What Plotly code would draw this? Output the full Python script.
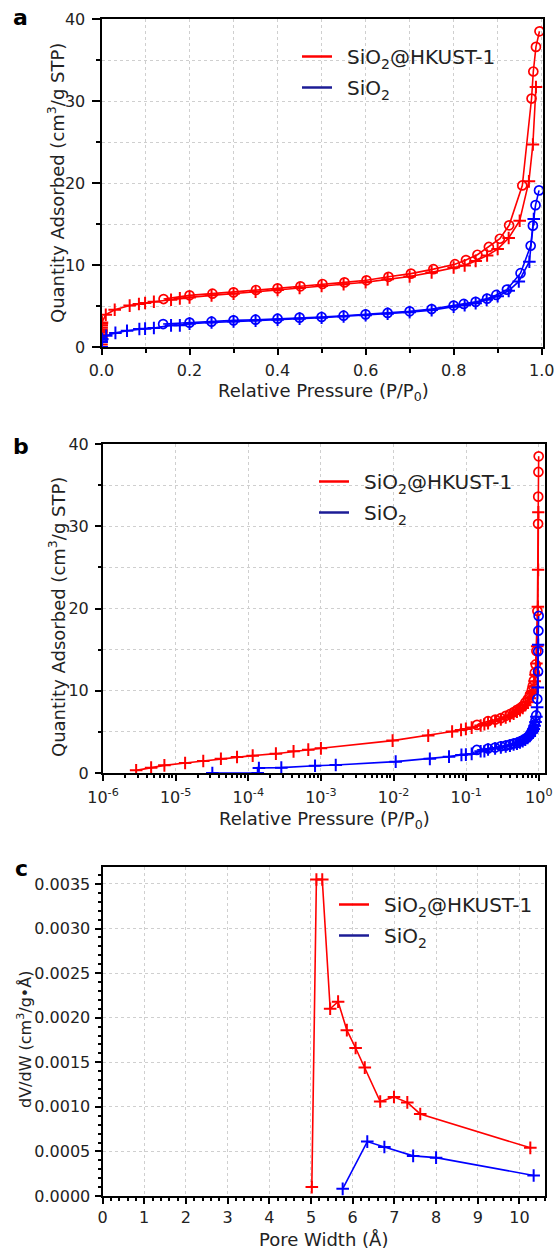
import plotly.graph_objects as go

# ---------------- data ----------------
# SiO2@HKUST-1 adsorption branch (P/P0, cm3/g STP)
red_ads_p = [2.86e-6, 4.6e-6, 7e-6, 1.35e-5, 2.4e-5, 4.2e-5, 7e-5, 1.15e-4, 2.4e-4, 4.2e-4,
             6.7e-4, 1.0e-3, 0.0097, 0.030, 0.064, 0.085, 0.099, 0.119, 0.158, 0.178,
             0.2, 0.25, 0.3, 0.35, 0.4, 0.45, 0.5, 0.55, 0.6, 0.65, 0.7, 0.75, 0.8, 0.825,
             0.85, 0.876, 0.9, 0.925, 0.95, 0.971, 0.980, 0.987]
red_ads_q = [0.32, 0.65, 0.93, 1.22, 1.46, 1.74, 1.95, 2.11, 2.35, 2.63,
             2.84, 3.0, 3.94, 4.55, 5.05, 5.24, 5.36, 5.52, 5.77, 5.93,
             6.05, 6.3, 6.5, 6.75, 6.95, 7.2, 7.45, 7.65, 7.9, 8.25, 8.6, 9.1, 9.7, 9.95,
             10.5, 11.15, 11.95, 13.3, 15.4, 20.2, 24.7, 31.7]
# SiO2@HKUST-1 desorption branch
red_des_p = [0.995, 0.987, 0.981, 0.977, 0.956, 0.926, 0.905, 0.88, 0.854, 0.828, 0.803,
             0.754, 0.703, 0.652, 0.602, 0.552, 0.502, 0.452, 0.40, 0.351, 0.30, 0.252,
             0.2, 0.141]
red_des_q = [38.5, 36.6, 33.6, 30.3, 19.7, 14.84, 13.2, 12.2, 11.25, 10.6, 10.1,
             9.5, 8.95, 8.56, 8.13, 7.88, 7.68, 7.4, 7.15, 6.95, 6.66, 6.5,
             6.3, 5.85]
# SiO2 adsorption branch
blue_ads_p = [3.2e-5, 1.35e-4, 1.4e-4, 2.85e-4, 8.3e-4, 1.6e-3, 0.0107, 0.0316, 0.058, 0.086,
              0.099, 0.119, 0.158, 0.178, 0.2, 0.25, 0.3, 0.35, 0.4, 0.45, 0.5, 0.55, 0.6,
              0.65, 0.7, 0.75, 0.8, 0.825, 0.85, 0.875, 0.9, 0.925, 0.948, 0.972, 0.982]
blue_ads_q = [0.0, 0.0, 0.6, 0.65, 0.89, 0.97, 1.38, 1.72, 1.99, 2.2,
              2.24, 2.32, 2.64, 2.64, 2.85, 2.98, 3.12, 3.22, 3.33, 3.46, 3.56, 3.72, 3.88,
              4.05, 4.25, 4.5, 4.9, 5.1, 5.35, 5.75, 6.2, 6.85, 8.0, 10.4, 15.6]
# SiO2 desorption branch
blue_des_p = [0.994, 0.986, 0.98, 0.975, 0.952, 0.921, 0.897, 0.876, 0.85, 0.823, 0.8,
              0.75, 0.7, 0.65, 0.6, 0.55, 0.5, 0.45, 0.4, 0.35, 0.3, 0.25, 0.2, 0.14]
blue_des_q = [19.1, 17.3, 14.8, 12.35, 9.0, 7.0, 6.35, 5.9, 5.5, 5.25, 5.05,
              4.63, 4.35, 4.15, 3.98, 3.82, 3.66, 3.58, 3.45, 3.33, 3.25, 3.09, 2.97, 2.8]
# pore size distribution (pore width in Angstrom, dV/dW)
pore_w_red = [5.02, 5.13, 5.27, 5.46, 5.65, 5.86, 6.07, 6.29, 6.66, 6.99, 7.31, 7.62, 10.26]
dvdw_red = [0.0001, 0.00355, 0.00355, 0.0021, 0.00218, 0.00186, 0.00166, 0.00144,
            0.00106, 0.00111, 0.00105, 0.00092, 0.00054]
pore_w_blue = [5.76, 6.35, 6.76, 7.45, 8.0, 10.34]
dvdw_blue = [0.00008, 0.00061, 0.00055, 0.00045, 0.00043, 0.00023]

log_tick_vals = [1e-6, 1e-5, 1e-4, 1e-3, 1e-2, 1e-1, 1]
log_tick_text = ["10<sup>-6</sup>", "10<sup>-5</sup>", "10<sup>-4</sup>", "10<sup>-3</sup>",
                 "10<sup>-2</sup>", "10<sup>-1</sup>", "10<sup>0</sup>"]

name_red = "\u2002SiO<sub>2</sub>@HKUST-1"
name_blue = "\u2002SiO<sub>2</sub>"

# ---------------- style ----------------
RED = "#ff0000"
BLUE = "#0000ff"
NAVY = "#1c1c96"
FONT = "DejaVu Sans, sans-serif"
TXT = "#222222"
GRID = "#cfcfcf"
W, H = 558, 1254

fig = go.Figure()


def add_iso(xa, ya):
    for px, qy, col, sym in [
        (red_ads_p, red_ads_q, RED, "cross-thin"),
        (red_des_p, red_des_q, RED, "circle-open"),
        (blue_ads_p, blue_ads_q, BLUE, "cross-thin"),
        (blue_des_p, blue_des_q, BLUE, "circle-open"),
    ]:
        fig.add_trace(go.Scatter(
            x=px, y=qy, mode="lines+markers", xaxis=xa, yaxis=ya, showlegend=False,
            line=dict(color=col, width=1.6),
            marker=dict(symbol=sym, size=9, color=col,
                        line=dict(color=col, width=2 if sym == "cross-thin" else 1.7)),
        ))


add_iso("x", "y")
add_iso("x2", "y2")

for pw, dv, col in [(pore_w_red, dvdw_red, RED), (pore_w_blue, dvdw_blue, BLUE)]:
    fig.add_trace(go.Scatter(x=pw, y=dv, mode="lines+markers", xaxis="x3", yaxis="y3",
                             showlegend=False, line=dict(color=col, width=1.6),
                             marker=dict(symbol="cross-thin", size=9, color=col,
                                         line=dict(color=col, width=2))))

# legend entries
for lg, xa, ya in [("legend", "x", "y"), ("legend2", "x2", "y2"), ("legend3", "x3", "y3")]:
    for nm, col in [(name_red, RED), (name_blue, NAVY)]:
        fig.add_trace(go.Scatter(x=[None], y=[None], mode="lines", name=nm, xaxis=xa, yaxis=ya,
                                 legend=lg, legendgroup=lg + nm, showlegend=True,
                                 line=dict(color=col, width=2.5)))


def px_dom(l, r):
    return [l / W, r / W]


def py_dom(top, bot):
    return [(H - bot) / H, (H - top) / H]


tickfont = dict(family=FONT, size=16, color=TXT)


def ax(ticklen=6, **kw):
    d = dict(showline=True, linecolor="black", linewidth=2, mirror=True,
             ticks="outside", ticklen=ticklen, tickwidth=1.5, tickcolor="black",
             tickfont=tickfont, zeroline=False, automargin=False,
             showgrid=True, gridcolor=GRID, gridwidth=1, griddash="dot")
    d.update(kw)
    return d


def minor(dtick, grid, ticklen=3):
    m = dict(dtick=dtick, ticks="outside", ticklen=ticklen, tickwidth=1.5, tickcolor="black",
             showgrid=grid)
    if grid:
        m.update(gridcolor=GRID, gridwidth=1, griddash="dot")
    return m


fig.update_layout(
    width=W, height=H, margin=dict(l=0, r=0, t=0, b=0, autoexpand=False),
    paper_bgcolor="white", plot_bgcolor="white",
    font=dict(family=FONT, color=TXT),
    xaxis=ax(domain=px_dom(101.5, 543), range=[0, 1.003],
             tickvals=[0, 0.2, 0.4, 0.6, 0.8, 1.0], tickformat=".1f", anchor="y",
             ticklabelstandoff=2, minor=minor(0.1, True, 4)),
    yaxis=ax(ticklen=8, domain=py_dom(19, 347), range=[0, 40], dtick=10, anchor="x",
             ticklabelstandoff=3, minor=minor(5, True, 4)),
    xaxis2=ax(domain=px_dom(103, 544.5), type="log", range=[-6, 0.078], tickvals=log_tick_vals,
              ticktext=log_tick_text, anchor="y2", ticklabelstandoff=3,
              minor=minor("D1", False, 3)),
    yaxis2=ax(domain=py_dom(444, 773), range=[0, 40], dtick=10, anchor="x2",
              ticklabelstandoff=3, minor=minor(5, True, 3)),
    xaxis3=ax(domain=px_dom(102.5, 544.5), range=[0, 10.6], dtick=1, anchor="y3",
              ticklabelstandoff=0, minor=minor(0.2, False, 3)),
    yaxis3=ax(domain=py_dom(867, 1196), range=[0, 0.00369], dtick=0.0005, tickformat=".4f",
              anchor="x3", ticklabelstandoff=1, minor=minor(0.0001, False, 3)),
)

leg_common = dict(font=dict(family=FONT, size=20, color=TXT), bgcolor="rgba(0,0,0,0)",
                  itemwidth=30, xanchor="left", yanchor="top", tracegroupgap=2,
                  itemclick=False)
fig.update_layout(
    legend=dict(x=297 / W, y=(H - 37) / H, **leg_common),
    legend2=dict(x=314 / W, y=(H - 462) / H, **leg_common),
    legend3=dict(x=334 / W, y=(H - 885) / H, **leg_common),
)

# axis titles and panel letters
ann = []


def title(text, x, y, angle=0, size=18):
    ann.append(dict(text=text, x=x / W, y=(H - y) / H, xref="paper", yref="paper",
                    showarrow=False, textangle=angle, xanchor="center", yanchor="middle",
                    font=dict(family=FONT, size=size, color=TXT)))


title("Quantity Adsorbed (cm<sup>3</sup>/g STP)", 56, 183, -90)
title("Relative Pressure (P/P<sub>0</sub>)", 323, 392)
title("Quantity Adsorbed (cm<sup>3</sup>/g STP)", 57, 617, -90)
title("Relative Pressure (P/P<sub>0</sub>)", 324, 820)
title("dV/dW (cm<sup>3</sup>/g•Å)", 24, 1040, -90, 16)
title("Pore Width (Å)", 323, 1239)
for letter, x, y in [("a", 20, 17), ("b", 21, 446), ("c", 21, 868)]:
    ann.append(dict(text="<b>%s</b>" % letter, x=x / W, y=(H - y) / H, xref="paper", yref="paper",
                    showarrow=False, xanchor="center", yanchor="middle",
                    font=dict(family=FONT, size=22, color="black")))
fig.update_layout(annotations=ann)

fig.write_html(
    "out.html",
    config={"displayModeBar": False},
    post_script="document.body.style.margin='0px';"
                "document.documentElement.style.overflow='hidden';",
)
